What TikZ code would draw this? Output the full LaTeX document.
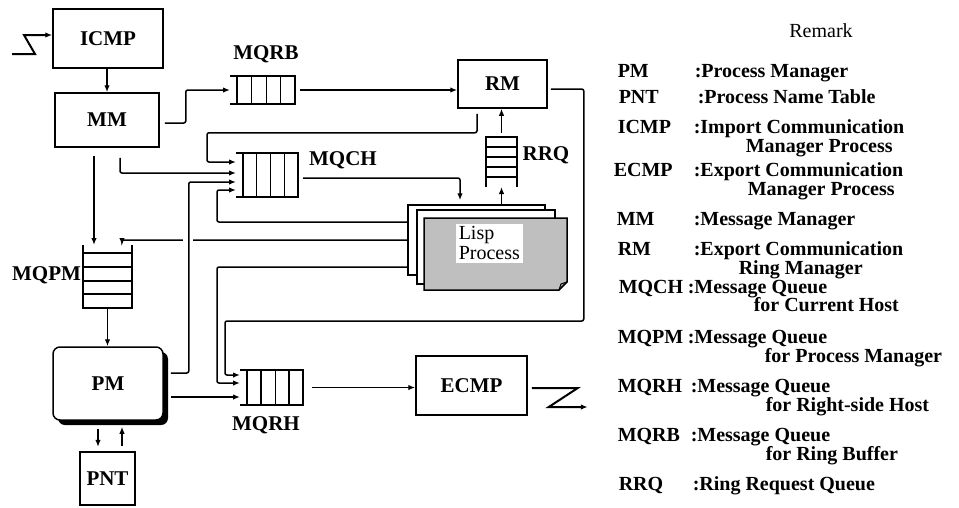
\documentclass[tikz,border=0pt]{standalone}
\usepackage{fontspec}
\setmainfont{Liberation Serif}
\usetikzlibrary{calc,arrows.meta}
\newcommand\hqlines[1]{%
  \draw (#1.north west) -- (#1.north east) -- (#1.south east) -- (#1.south west);
  \foreach \f in {0.11,0.33,0.56,0.78}{\draw ($(#1.north west)!\f!(#1.north east)$) -- ($(#1.south west)!\f!(#1.south east)$);}}
\begin{document}
\begin{tikzpicture}[x=1pt,y=-1pt,line width=1.5pt,
  blk/.style n args={2}{draw, minimum width=#1, minimum height=#2, inner sep=0pt, font=\fontsize{21}{24}\selectfont\bfseries},
  qnode/.style n args={2}{minimum width=#1, minimum height=#2, inner sep=0pt, outer sep=0pt},
  arr/.style={-{Latex[length=7pt,width=5.5pt]}, rounded corners=2pt},
  lbl/.style={inner sep=0pt, font=\fontsize{21}{24}\selectfont\bfseries},
  rem/.style={anchor=base west, inner sep=0pt, font=\fontsize{20}{22}\selectfont\bfseries}]
\useasboundingbox[fill=white] (0,0) rectangle (959,507);

% ---------- boxes ----------
\node[blk={110}{59}] (icmp) at (108,38.5) {ICMP};
\node[blk={104}{54}] (mm) at (107,120) {MM};
\node[blk={89}{48}] (rm) at (502.5,84) {RM};
\node[blk={111}{59}] (ecmp) at (471.5,385.5) {ECMP};
\fill[rounded corners=7pt] (58,352) rectangle (168,425);
\node[blk={110}{73}, rounded corners=7pt, fill=white] (pm) at (108,383.5) {PM};
\node[blk={55}{53}, line width=2.2pt] (pnt) at (107.5,478.5) {PNT};

% ---------- queues ----------
\node[qnode={65}{28}] (mqrb) at (262.5,90) {};
\hqlines{mqrb}
\node[qnode={62}{44}] (mqch) at (267,175) {};
\hqlines{mqch}
\node[qnode={63}{35}] (mqrh) at (271.5,387.5) {};
\hqlines{mqrh}
\node[qnode={31}{50}] (rrq) at (501.5,162) {};
\draw (rrq.south west) -- (rrq.north west) -- (rrq.north east) -- (rrq.south east);
\foreach \f in {0.2,0.4,0.6,0.8}{\draw ($(rrq.north west)!\f!(rrq.south west)$) -- ($(rrq.north east)!\f!(rrq.south east)$);}
\node[qnode={49}{63}] (mqpm) at (107.5,276.5) {};
\draw (mqpm.north west) -- (mqpm.south west) -- (mqpm.south east) -- (mqpm.north east);
\foreach \f in {0.127,0.349,0.571,0.778}{\draw ($(mqpm.north west)!\f!(mqpm.south west)$) -- ($(mqpm.north east)!\f!(mqpm.south east)$);}

\node[lbl] (lmqrb) at (266,54) {MQRB};
\node[lbl] (lmqch) at (343,160.5) {MQCH};
\node[lbl] (lrrq) at (546,155) {RRQ};
\node[lbl] (lmqpm) at (46.5,275) {MQPM};
\node[lbl] (lmqrh) at (266,425) {MQRH};

% ---------- Lisp process stack ----------
\node[draw, fill=white, minimum width=137, minimum height=70, inner sep=0pt] (lispb) at (476.5,240) {};
\node[draw, fill=white, minimum width=138, minimum height=74, inner sep=0pt] (lispm) at (486,247) {};
\node[minimum width=143, minimum height=72, inner sep=0pt] (lisp) at (495.5,254) {};
\filldraw[fill=black!25] (424,218) -- (567,218) -- (567,282) -- (559,290) -- (424,290) -- cycle;
\draw[line width=1pt] (559,290) -- (561,284) -- (567,282);
\node[fill=white, align=left, font=\fontsize{20}{20}\selectfont, inner xsep=3pt, inner ysep=3pt, anchor=north west] (lisptext) at (455,223) {Lisp\\Process};

% ---------- connectors ----------
\coordinate (zi1) at (12,54); \coordinate (zi2) at (35,54); \coordinate (zi3) at (24,35);
\draw[arr, line width=2pt, rounded corners=0pt] (zi1) -- (zi2) -- (zi3) -- (zi3 -| icmp.west);

\draw[arr] (mm.north |- icmp.south) -- (mm.north);
\draw[arr, shorten <=5pt] ($(mm.east)+(0,3)$) -- ++(26,0) |- (mqrb.west);
\draw[arr, shorten <=5pt] (mqrb.east) -- (mqrb.east -| rm.west);

\coordinate (rmS) at ($(rm.south)+(-25.5,0)$);
\draw[arr, shorten <=5pt] (rmS) -- ++(0,24) -| ($(mqch.west)+(-29,-13)$) -- ($(mqch.west)+(0,-13)$);
\draw[arr, shorten <=10pt] ($(mm.south)+(13,0)$) |- ($(mqch.west)+(0,-2)$);

\draw[arr] (lispb.west) -| ($(mqpm.north)+(14.5,0)$);
\fill[white] (183,235) rectangle (193,245);
\coordinate (pmE1) at ($(pm.east)+(7,-10.5)$);
\draw[arr] (pmE1) -- ++(18,0) |- ($(mqch.west)+(0,7)$);

\draw[arr] ($(lispb.west)+(0,-18)$) -| ($(mqch.west)+(-19,15)$) -- ($(mqch.west)+(0,15)$);
\draw[arr, shorten <=5pt, shorten >=4pt] ($(mqch.east)+(0,3)$) -| ($(lispb.north)+(-16.5,0)$);
\draw[arr] (rrq.south |- lispb.north) -- (rrq.south);
\draw[arr, shorten <=4pt] (rrq.north) -- (rrq.north |- rm.south);

\draw[arr, shorten <=3pt] ($(rm.east)+(0,5)$) -- ++(36,0) -- ++(0,232) -| ($(mqrh.west)+(-15,-12.5)$) -- ($(mqrh.west)+(0,-12.5)$);
\draw[arr] ($(lispb.west)+(0,27)$) -| ($(mqrh.west)+(-23,-4.5)$) -- ($(mqrh.west)+(0,-4.5)$);

\coordinate (mmS1) at ($(mm.south)+(-13,0)$);
\draw[arr, shorten <=8pt] (mmS1) -- (mmS1 |- mqpm.north);
\draw[arr] (mqpm.south) -- (mqpm.south |- pm.north);
\draw[arr] ($(pm.east)+(7,13.5)$) -- ($(mqrh.west)+(0,9.5)$);
\draw[arr, shorten <=9pt] (mqrh.east) -- (mqrh.east -| ecmp.west);
\draw[arr, line width=2pt, rounded corners=0pt, shorten <=4pt] ($(ecmp.east)+(0,2.5)$) -- ++(50,0) -- ++(-29,19) -- ++(39,0);

\coordinate (pmS1) at ($(pm.south)+(-10,0)$);
\draw[arr, shorten <=8pt, shorten >=4pt] (pmS1) -- (pmS1 |- pnt.north);
\coordinate (pntN2) at ($(pnt.north)+(14.5,0)$);
\draw[arr, shorten <=5pt, shorten >=6pt] (pntN2) -- (pntN2 |- pm.south);

% ---------- Remark ----------
\node[anchor=base, inner sep=0pt, font=\fontsize{20}{20}\selectfont] (rtitle) at (821,37) {Remark};
\node[rem] (a1) at (617,77) {PM};   \node[rem] (b1) at (694,77) {:Process Manager};
\node[rem] (a2) at (618,103) {PNT}; \node[rem] (b2) at (697,103) {:Process Name Table};
\node[rem] (a3) at (617,133) {ICMP}; \node[rem] (b3) at (693,133) {:Import Communication};
\node[rem] (c3) at (745,152) {Manager Process};
\node[rem] (a4) at (613,176) {ECMP}; \node[rem] (b4) at (693,176) {:Export Communication};
\node[rem] (c4) at (747,195) {Manager Process};
\node[rem] (a5) at (616,225) {MM}; \node[rem] (b5) at (693,225) {:Message Manager};
\node[rem] (a6) at (617,255) {RM}; \node[rem] (b6) at (693,255) {:Export Communication};
\node[rem] (c6) at (738,274) {Ring Manager};
\node[rem] (a7) at (618,293) {MQCH}; \node[rem] (b7) at (687,293) {:Message Queue};
\node[rem] (c7) at (753,311) {for Current Host};
\node[rem] (a8) at (617,343) {MQPM}; \node[rem] (b8) at (687,343) {:Message Queue};
\node[rem] (c8) at (764,362) {for Process Manager};
\node[rem] (a9) at (617,392) {MQRH}; \node[rem] (b9) at (690,392) {:Message Queue};
\node[rem] (c9) at (765,411) {for Right-side Host};
\node[rem] (a10) at (617,441) {MQRB}; \node[rem] (b10) at (690,441) {:Message Queue};
\node[rem] (c10) at (765,460) {for Ring Buffer};
\node[rem] (a11) at (618,490) {RRQ}; \node[rem] (b11) at (692,490) {:Ring Request Queue};
\end{tikzpicture}
\end{document}
